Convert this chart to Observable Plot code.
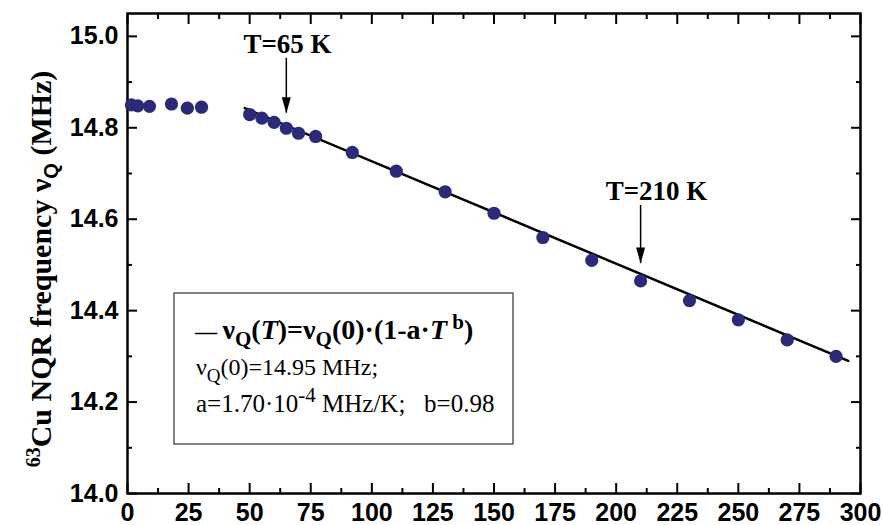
<!DOCTYPE html>
<html><head><meta charset="utf-8">
<script src="https://cdn.jsdelivr.net/npm/d3@7"></script>
<script src="https://cdn.jsdelivr.net/npm/@observablehq/plot@0.6"></script>
<style>body{margin:0;background:#fff}</style>
</head><body><div id="chart"></div>
<script>
// Measured data: temperature (K) and 63Cu NQR frequency (MHz)
const temps = [1.6, 4.2, 9, 18, 24.5, 30.3, 50, 55, 60, 65, 70, 77, 92, 110, 130, 150, 170, 190, 210, 230, 250, 270, 290];
const freqs = [14.850, 14.848, 14.847, 14.852, 14.843, 14.845, 14.829, 14.821, 14.812, 14.799, 14.788, 14.781, 14.746, 14.705, 14.660, 14.613, 14.560, 14.510, 14.465, 14.422, 14.380, 14.336, 14.300];
// Fit line endpoints
const fitT = [48, 295];
const fitV = [14.843, 14.290];
// Annotations
const arrowT = [65, 210];
const arrowTop = [14.952, 14.630];
const arrowTip = [14.832, 14.503];
const labelT = [65.5, 216.5];
const labelV = [14.983, 14.660];
const labelText = ["T=65 K", "T=210 K"];
// Ticks
const xMajor = [0, 25, 50, 75, 100, 125, 150, 175, 200, 225, 250, 275, 300];
const xMinor = [12.5, 37.5, 62.5, 87.5, 112.5, 137.5, 162.5, 187.5, 212.5, 237.5, 262.5, 287.5];
const yMajor = [14.0, 14.2, 14.4, 14.6, 14.8, 15.0];
const yMinor = [14.1, 14.3, 14.5, 14.7, 14.9];

const points = temps.map((T, i) => ({T, v: freqs[i]}));
const fit = fitT.map((T, i) => ({T, v: fitV[i]}));
const arrows = arrowT.map((T, i) => ({T, y1: arrowTop[i], y2: arrowTip[i]}));
const labels = labelT.map((T, i) => ({T, v: labelV[i], text: labelText[i]}));

const arrowHead = {draw(ctx) { ctx.moveTo(0, 0); ctx.lineTo(-4.5, -16); ctx.lineTo(4.5, -16); ctx.closePath(); }};
const blank = () => "";
const serif = "'Liberation Serif', 'Times New Roman', serif";

const plot = Plot.plot({
  width: 883, height: 525,
  marginLeft: 127, marginRight: 23, marginTop: 13, marginBottom: 32,
  x: {domain: [0, 300], label: null},
  y: {domain: [14.0, 15.05], label: null},
  style: {fontFamily: "'Liberation Sans', Arial, sans-serif", background: "white", color: "black", overflow: "visible"},
  marks: [
    Plot.axisX(xMinor, {anchor: "bottom", tickSize: -5, tickFormat: blank, strokeWidth: 2, label: null}),
    Plot.axisX(xMajor, {anchor: "bottom", tickSize: -10, tickPadding: 20, strokeWidth: 2, fontSize: 25, fontWeight: "bold", label: null}),
    Plot.axisX(xMinor, {anchor: "top", tickSize: -5, tickFormat: blank, strokeWidth: 2, label: null}),
    Plot.axisX(xMajor, {anchor: "top", tickSize: -10, tickFormat: blank, strokeWidth: 2, label: null}),
    Plot.axisY(yMinor, {anchor: "left", tickSize: -5, tickFormat: blank, strokeWidth: 2, label: null}),
    Plot.axisY(yMajor, {anchor: "left", tickSize: -10, tickPadding: 19, tickFormat: d3.format(".1f"), strokeWidth: 2, fontSize: 25, fontWeight: "bold", label: null}),
    Plot.axisY(yMinor, {anchor: "right", tickSize: -5, tickFormat: blank, strokeWidth: 2, label: null}),
    Plot.axisY(yMajor, {anchor: "right", tickSize: -10, tickFormat: blank, strokeWidth: 2, label: null}),
    Plot.frame({stroke: "black", strokeWidth: 2.5}),
    Plot.line(fit, {x: "T", y: "v", stroke: "black", strokeWidth: 2.5}),
    Plot.dot(points, {x: "T", y: "v", r: 6.6, fill: "#2a2a78"}),
    Plot.ruleX(arrows, {x: "T", y1: "y1", y2: "y2", stroke: "black", strokeWidth: 1.5}),
    Plot.dot(arrows, {x: "T", y: "y2", symbol: arrowHead, fill: "black", r: 5}),
    Plot.text(labels, {x: "T", y: "v", text: "text", fontFamily: serif, fontWeight: "bold", fontSize: 27, fill: "black"})
  ]
});
document.getElementById("chart").appendChild(plot);

const svg = d3.select(plot);
// Y-axis title with super/subscripts
const yl = svg.append("text")
  .attr("transform", "translate(51,269) rotate(-90)")
  .attr("text-anchor", "middle")
  .style("font-family", serif).style("font-weight", "bold").style("font-size", "30px").attr("fill", "black");
yl.append("tspan").attr("dy", -11).style("font-size", "20px").text("63");
yl.append("tspan").attr("dy", 11).text("Cu NQR frequency ");
yl.append("tspan").text("ν");
yl.append("tspan").attr("dy", 7).style("font-size", "20px").style("font-family", "'Liberation Sans', Arial, sans-serif").text("Q");
yl.append("tspan").attr("dy", -7).text(" (MHz)");

// Legend box
const lg = svg.append("g").style("font-family", serif).attr("fill", "black").attr("text-anchor", "start");
lg.append("rect").attr("x", 174).attr("y", 293).attr("width", 339).attr("height", 151)
  .attr("fill", "white").attr("stroke", "#333").attr("stroke-width", 1.2);
const l1 = lg.append("text").attr("text-anchor", "start").attr("x", 195).attr("y", 339).style("font-size", "28px").style("font-weight", "bold");
l1.append("tspan").style("font-size", "22px").text("—\u00A0");
l1.append("tspan").text("ν");
l1.append("tspan").attr("dy", 7).style("font-size", "21px").text("Q");
l1.append("tspan").attr("dy", -7).text("(");
l1.append("tspan").style("font-style", "italic").text("T");
l1.append("tspan").text(")=ν");
l1.append("tspan").attr("dy", 7).style("font-size", "21px").text("Q");
l1.append("tspan").attr("dy", -7).text("(0)·(1-a·");
l1.append("tspan").style("font-style", "italic").text("T");
l1.append("tspan").attr("dy", -10).style("font-size", "21px").text("\u00A0b");
l1.append("tspan").attr("dy", 10).text(")");
const l2 = lg.append("text").attr("text-anchor", "start").attr("x", 196).attr("y", 375).style("font-size", "24px");
l2.append("tspan").text("ν");
l2.append("tspan").attr("dy", 7).style("font-size", "19px").text("Q");
l2.append("tspan").attr("dy", -7).text("(0)=14.95 MHz;");
const l3 = lg.append("text").attr("text-anchor", "start").attr("x", 196).attr("y", 412).style("font-size", "25px");
l3.append("tspan").text("a=1.70·10");
l3.append("tspan").attr("dy", -10).style("font-size", "21px").text("-4");
l3.append("tspan").attr("dy", 10).text("\u00A0MHz/K;\u00A0\u00A0 b=0.98");
</script>
</body></html>
